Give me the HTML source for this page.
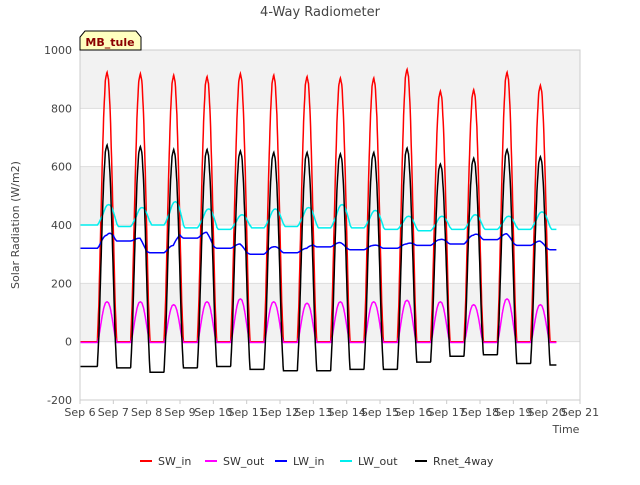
<!DOCTYPE html>
<html><head><meta charset="utf-8"><style>
body{margin:0;background:#fff;font-family:"Liberation Sans","DejaVu Sans",sans-serif}
text{font-family:"DejaVu Sans","Liberation Sans",sans-serif}
</style></head><body>
<svg id="c" width="640" height="480" xmlns="http://www.w3.org/2000/svg">
<rect width="640" height="480" fill="#fff"/>
<g id="bands"></g><g id="grid"></g><g id="series"></g><g id="axes"></g>
<text x="320" y="16" text-anchor="middle" font-size="13" fill="#444">4-Way Radiometer</text>
<text x="19" y="225" text-anchor="middle" font-size="11" fill="#444" transform="rotate(-90 19 225)">Solar Radiation (W/m2)</text>
<text x="566" y="433" text-anchor="middle" font-size="11" fill="#444">Time</text>
<g>
<path d="M80,50 L80,37 L85,31 L136,31 L141,37 L141,50 Z" fill="#ffffc0" stroke="#000" stroke-width="1"/>
<text x="110" y="46" text-anchor="middle" font-size="11" font-weight="bold" fill="#8b0000">MB_tule</text>
</g>
<g id="legend"></g>
</svg>
<script>
const dayLabels=["Sep 6","Sep 7","Sep 8","Sep 9","Sep 10","Sep 11","Sep 12","Sep 13","Sep 14","Sep 15","Sep 16","Sep 17","Sep 18","Sep 19","Sep 20","Sep 21"];
const yTicks=[-200,0,200,400,600,800,1000];
const swInPeak=[925,920,915,910,920,915,910,905,905,935,860,865,925,880];
const swOutPeak=[140,140,130,140,150,140,135,140,140,145,140,130,150,130];
const lwInBase=[320,345,305,355,320,300,305,325,315,320,330,335,350,330,315];
const lwInBump=[45,10,25,20,15,25,15,15,15,15,20,30,20,15];
const lwOutNight=[400,395,400,390,385,390,395,390,390,385,380,385,385,385,385];
const lwOutPeak=[470,460,480,455,435,455,460,470,450,430,430,435,430,445];
const rnetPeak=[675,670,660,660,655,650,650,645,650,665,610,630,660,635];
const rnetNight=[-85,-90,-105,-90,-85,-95,-100,-100,-95,-95,-70,-50,-45,-75,-80,-80];
const diurnal=[0,0.15,0.4,0.65,0.85,0.97,1,0.97,0.85,0.65,0.4,0.15,0];
const NS="http://www.w3.org/2000/svg";
const X0=80,X1=580,Y0=400,Y1=50;
const xs=d=>X0+(d/15)*(X1-X0);
const ys=v=>Y0-(v+200)/1200*(Y0-Y1);
function mk(t,a,p){const e=document.createElementNS(NS,t);for(const k in a)e.setAttribute(k,a[k]);(p||document.getElementById('series')).appendChild(e);return e;}
const bands=document.getElementById('bands'),grid=document.getElementById('grid'),axes=document.getElementById('axes');
for(let i=0;i<6;i++){if(i%2==1){const r=mk('rect',{x:X0,y:ys(yTicks[i+1]),width:X1-X0,height:ys(yTicks[i])-ys(yTicks[i+1]),fill:'#f2f2f2'},bands);}}
yTicks.forEach(v=>{const l=mk('line',{x1:X0,x2:X1,y1:ys(v),y2:ys(v),stroke:'#ddd'},grid);
const t=mk('text',{x:X0-8,y:ys(v)+4,'text-anchor':'end','font-size':11,fill:'#444'},axes);t.textContent=v;});
const fr=mk('rect',{x:X0,y:Y1,width:X1-X0,height:Y0-Y1,fill:'none',stroke:'#ccc'},axes);
dayLabels.forEach((s,i)=>{const t=mk('text',{x:xs(i),y:Y0+16,'text-anchor':'middle','font-size':11,fill:'#444'},axes);t.textContent=s;
const k=mk('line',{x1:xs(i),x2:xs(i),y1:Y0,y2:Y0+4,stroke:'#ccc'},axes);});
const DS=0.52,DE=1.1;
function shape(f){if(f<DS||f>DE)return 0;const p=(f-DS)/(DE-DS)*(diurnal.length-1);const i=Math.floor(p),r=p-i;return diurnal[i]*(1-r)+(diurnal[Math.min(i+1,diurnal.length-1)])*r;}
function night(arr,t){const d=Math.floor(t),f=t-d;const a=arr[Math.min(d,arr.length-1)],b=arr[Math.min(d+1,arr.length-1)];const w=Math.max(0,(f-0.8)/0.2);return a*(1-w)+b*w;}
function val(name,t){const d=Math.floor(t),f=t-d;
let s=shape(f),sd=d;if(d>0&&f<DE-1){const s2=shape(f+1);if(s2>s){s=s2;sd=d-1;}}
sd=Math.max(0,Math.min(13,sd));
switch(name){case'swin':return s*swInPeak[sd];case'swout':return s*swOutPeak[sd]-3;
case'lwin':return night(lwInBase,t)+s*lwInBump[sd];
case'lwout':{const n=night(lwOutNight,t);let lag=shape(f-0.05);if(d>0&&f<0.2)lag=Math.max(lag,shape(f+0.95));return n+Math.max(lag,s*0.7)*(lwOutPeak[sd]-n);}
case'rnet':return s*rnetPeak[sd]+(1-s)*night(rnetNight,t);}}
const series=[['swin','#ff0000','sw-in-line'],['swout','#ff00ff','sw-out-line'],['lwin','#0000ff','lw-in-line'],['lwout','#00eeee','lw-out-line'],['rnet','#000000','rnet-line']];
const T1=14.3;
series.forEach(([k,c,n])=>{let d='';for(let t=0;t<=T1;t+=1/96){d+=(d?'L':'M')+xs(t).toFixed(1)+','+ys(val(k,t)).toFixed(1);}
const p=mk('path',{d:d,fill:'none',stroke:c,'stroke-width':1.5});});
const leg=[['SW_in','#ff0000',140],['SW_out','#ff00ff',205],['LW_in','#0000ff',275],['LW_out','#00eeee',340],['Rnet_4way','#000000',415]];
const lg=document.getElementById('legend');
leg.forEach(([s,c,x])=>{const g=mk('g',{},lg);
mk('line',{x1:x,x2:x+12,y1:461,y2:461,stroke:c,'stroke-width':2},g);const t=mk('text',{x:x+18,y:465,'font-size':11,fill:'#333'},g);t.textContent=s;});
</script>
</body></html>
